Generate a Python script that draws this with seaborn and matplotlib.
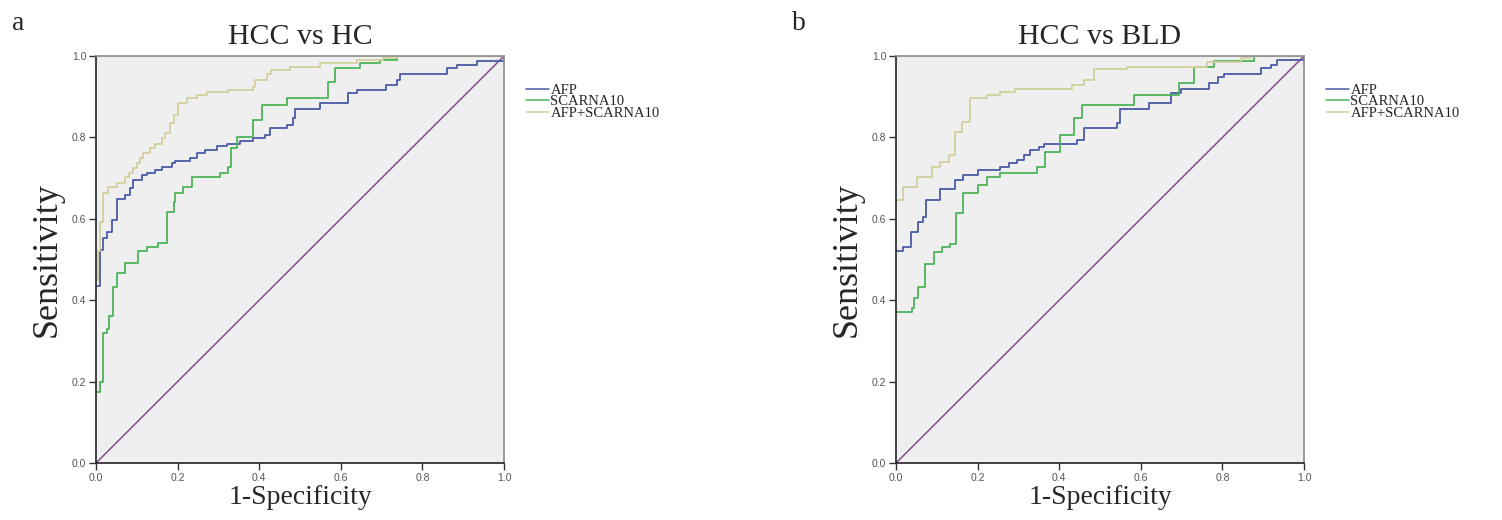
import numpy as np
import pandas as pd
import matplotlib
matplotlib.use("Agg")
import matplotlib.pyplot as plt
import seaborn as sns

# ROC step points (1-Specificity, Sensitivity)
# panel a: HCC vs HC
a_afp_x = [0, 0.01, 0.018, 0.026, 0.038, 0.051, 0.071, 0.083, 0.091, 0.112, 0.124, 0.145, 0.161, 0.186, 0.194,
           0.23, 0.247, 0.267, 0.296, 0.32, 0.353, 0.386, 0.414, 0.426, 0.467, 0.484, 0.488, 0.549, 0.618, 0.639,
           0.712, 0.737, 0.745, 0.86, 0.884, 0.933, 1.0]
a_afp_y = [0.435, 0.523, 0.552, 0.568, 0.597, 0.648, 0.658, 0.675, 0.695, 0.708, 0.712, 0.72, 0.728, 0.736, 0.743,
           0.749, 0.761, 0.769, 0.779, 0.784, 0.79, 0.798, 0.806, 0.822, 0.83, 0.847, 0.871, 0.884, 0.908, 0.916,
           0.929, 0.941, 0.957, 0.97, 0.978, 0.988, 1.0]
a_sc_x = [0, 0.01, 0.018, 0.026, 0.033, 0.041, 0.051, 0.071, 0.102, 0.125, 0.153, 0.175, 0.19, 0.194, 0.214, 0.235,
          0.304, 0.324, 0.33, 0.345, 0.386, 0.406, 0.467, 0.569, 0.586, 0.647, 0.696, 0.737, 1.0]
a_sc_y = [0.175, 0.20, 0.32, 0.33, 0.36, 0.433, 0.468, 0.492, 0.52, 0.53, 0.54, 0.617, 0.642, 0.663, 0.679, 0.703,
          0.712, 0.728, 0.773, 0.80, 0.843, 0.88, 0.896, 0.937, 0.97, 0.982, 0.99, 1.0, 1.0]
a_comb_x = [0, 0.005, 0.01, 0.018, 0.03, 0.051, 0.071, 0.08, 0.091, 0.1, 0.108, 0.116, 0.132, 0.145, 0.161, 0.17,
            0.181, 0.19, 0.202, 0.222, 0.247, 0.271, 0.324, 0.386, 0.39, 0.418, 0.43, 0.475, 0.549, 0.639, 0.704,
            0.737, 1.0]
a_comb_y = [0.45, 0.52, 0.593, 0.663, 0.679, 0.687, 0.703, 0.712, 0.724, 0.737, 0.749, 0.761, 0.773, 0.785, 0.798,
            0.81, 0.835, 0.855, 0.884, 0.896, 0.904, 0.912, 0.916, 0.925, 0.941, 0.957, 0.965, 0.974, 0.982, 0.99,
            0.995, 1.0, 1.0]

# panel b: HCC vs BLD
b_afp_x = [0, 0.018, 0.036, 0.055, 0.065, 0.074, 0.108, 0.145, 0.165, 0.202, 0.255, 0.276, 0.297, 0.313, 0.329,
           0.35, 0.362, 0.444, 0.46, 0.542, 0.55, 0.62, 0.673, 0.698, 0.767, 0.788, 0.804, 0.894, 0.919, 0.935, 1.0]
b_afp_y = [0.522, 0.53, 0.568, 0.593, 0.605, 0.646, 0.672, 0.695, 0.708, 0.72, 0.728, 0.736, 0.744, 0.757, 0.769,
           0.777, 0.784, 0.794, 0.822, 0.835, 0.871, 0.885, 0.908, 0.918, 0.933, 0.949, 0.957, 0.97, 0.978, 0.99, 1.0]
b_sc_x = [0, 0.038, 0.045, 0.055, 0.071, 0.092, 0.112, 0.133, 0.147, 0.164, 0.2, 0.223, 0.255, 0.346, 0.366,
          0.403, 0.436, 0.456, 0.583, 0.694, 0.731, 0.78, 0.878, 1.0]
b_sc_y = [0.372, 0.38, 0.405, 0.432, 0.489, 0.519, 0.53, 0.537, 0.615, 0.663, 0.683, 0.703, 0.712, 0.728, 0.765,
          0.806, 0.847, 0.88, 0.904, 0.934, 0.974, 0.988, 1.0, 1.0]
b_comb_x = [0, 0.018, 0.051, 0.088, 0.108, 0.129, 0.145, 0.161, 0.182, 0.223, 0.255, 0.292, 0.432, 0.46, 0.485,
            0.567, 0.763, 0.845, 0.87, 1.0]
b_comb_y = [0.645, 0.679, 0.703, 0.728, 0.74, 0.757, 0.814, 0.839, 0.896, 0.904, 0.912, 0.918, 0.929, 0.941, 0.967,
            0.974, 0.986, 0.995, 1.0, 1.0]

ref_line = [0.0, 1.0]
series_names = ["AFP", "SCARNA10", "AFP+SCARNA10"]
titles = ["HCC vs HC", "HCC vs BLD"]
panel_letters = ["a", "b"]
colors = {"AFP": "#4a5aa8", "SCARNA10": "#4db45a", "AFP+SCARNA10": "#d3cf9e"}
diag_color = "#8a4a8e"

sns.set_style("white")
plt.rcParams["font.family"] = ["Liberation Serif", "DejaVu Serif"]


def make_df(xs, ys):
    parts = []
    for name, x, y in zip(series_names, xs, ys):
        parts.append(pd.DataFrame({"fpr": x, "tpr": y, "test": name}))
    return pd.concat(parts, ignore_index=True)


panels = [
    make_df([a_afp_x, a_sc_x, a_comb_x], [a_afp_y, a_sc_y, a_comb_y]),
    make_df([b_afp_x, b_sc_x, b_comb_x], [b_afp_y, b_sc_y, b_comb_y]),
]

fig = plt.figure(figsize=(15.02, 5.2), dpi=100)
lefts = [96 / 1502, 896 / 1502]
letter_x = [12 / 1502, 792 / 1502]

for i, df in enumerate(panels):
    ax = fig.add_axes([lefts[i], 1 - 463 / 520, 408 / 1502, 407 / 520])
    ax.set_facecolor("#efefef")
    sns.lineplot(x=ref_line, y=ref_line, ax=ax, color=diag_color, lw=1.1)
    sns.lineplot(data=df, x="fpr", y="tpr", hue="test", hue_order=series_names, palette=colors,
                 estimator=None, sort=False, drawstyle="steps-post", lw=1.3, ax=ax, legend=False)
    ax.set_xlim(0, 1)
    ax.set_ylim(0, 1)
    ticks = np.arange(0, 1.01, 0.2)
    ax.set_xticks(ticks)
    ax.set_yticks(ticks)
    ax.set_xticklabels([f"{t:.1f}" for t in ticks], family="Liberation Sans", fontsize=7.5, color="#555555")
    ax.set_yticklabels([f"{t:.1f}" for t in ticks], family="Liberation Sans", fontsize=7.5, color="#555555")
    ax.tick_params(direction="out", length=5, width=1, color="#333333", pad=2,
                   bottom=True, left=True)
    for side in ["left", "bottom"]:
        ax.spines[side].set_color("#222222")
        ax.spines[side].set_linewidth(1.2)
    for side in ["top", "right"]:
        ax.spines[side].set_color("#8c8c8c")
        ax.spines[side].set_linewidth(1.2)
    ax.set_title(titles[i], fontsize=21.5, pad=9)
    ax.set_xlabel("1-Specificity", fontsize=20, labelpad=2)
    ax.set_ylabel("Sensitivity", fontsize=26, labelpad=6)
    handles = [plt.Line2D([], [], color=colors[n], lw=1.1) for n in series_names]
    ax.legend(handles, series_names, loc="upper left", bbox_to_anchor=(1.035, 0.95), frameon=False,
              fontsize=10.5, handlelength=1.6, handletextpad=0.1, labelspacing=-0.12, borderpad=0)
    fig.text(letter_x[i], 0.955, panel_letters[i], fontsize=20, va="center")

fig.savefig("out.png", dpi=100)
